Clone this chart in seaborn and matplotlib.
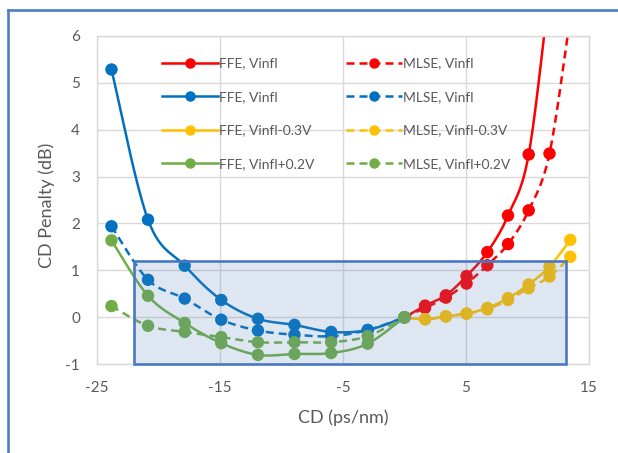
import numpy as np
import pandas as pd
import matplotlib
matplotlib.use("Agg")
import matplotlib.pyplot as plt
from matplotlib.lines import Line2D
from matplotlib.patches import Rectangle
import seaborn as sns

# ---------------- data ----------------
cd_neg = [-23.8, -20.83, -17.85, -14.88, -11.9, -8.93, -5.95, -2.98, 0.0]
cd_pos = [0.0, 1.68, 3.37, 5.05, 6.74, 8.42, 10.1, 11.79, 13.48]

ffe_red = [0.0, 0.25, 0.47, 0.88, 1.39, 2.17, 3.47, 7.0]
mlse_red = [0.0, 0.20, 0.42, 0.72, 1.11, 1.56, 2.28, 3.49, 6.4]
ffe_blue = [5.28, 2.08, 1.10, 0.37, -0.03, -0.16, -0.31, -0.27, 0.0]
mlse_blue = [1.94, 0.80, 0.40, -0.05, -0.28, -0.37, -0.40, -0.27, 0.0]
ffe_yellow = [0.0, -0.04, 0.02, 0.08, 0.20, 0.41, 0.70, 1.08, 1.65]
mlse_yellow = [0.0, -0.04, 0.02, 0.08, 0.17, 0.37, 0.62, 0.87, 1.29]
ffe_green = [1.64, 0.46, -0.12, -0.55, -0.80, -0.78, -0.76, -0.56, 0.0]
mlse_green = [0.24, -0.18, -0.31, -0.42, -0.53, -0.53, -0.53, -0.40, 0.0]

labels_ffe = ["FFE, Vinfl", "FFE, Vinfl", "FFE, Vinfl-0.3V", "FFE, Vinfl+0.2V"]
labels_mlse = ["MLSE, Vinfl", "MLSE, Vinfl", "MLSE, Vinfl-0.3V", "MLSE, Vinfl+0.2V"]
colors = ["#FF0000", "#0070C0", "#FFC000", "#70AD47"]

x_ticks = [-25, -15, -5, 5, 15]
y_ticks = [-1, 0, 1, 2, 3, 4, 5, 6]
box_x = [-21.93, 13.1]
box_y = [-1.0, 1.19]

# ---------------- helpers ----------------
def smooth(x, y, n=24):
    pts = np.column_stack([x, y]).astype(float)
    xs, ys = [], []
    m = len(pts)
    for i in range(m - 1):
        p0 = pts[i - 1] if i > 0 else pts[i]
        p1 = pts[i]
        p2 = pts[i + 1]
        p3 = pts[i + 2] if i + 2 < m else pts[i + 1]
        c1 = p1 + (p2 - p0) / 6.0
        c2 = p2 - (p3 - p1) / 6.0
        t = np.linspace(0, 1, n, endpoint=(i == m - 2))[:, None]
        b = ((1 - t) ** 3) * p1 + 3 * ((1 - t) ** 2) * t * c1 + 3 * (1 - t) * t ** 2 * c2 + t ** 3 * p2
        xs.append(b[:, 0]); ys.append(b[:, 1])
    return np.concatenate(xs), np.concatenate(ys)

plt.rcParams['font.family'] = ['Lato', 'DejaVu Sans']
plt.rcParams['axes.unicode_minus'] = False
text_col = "#595959"

fig = plt.figure(figsize=(6.18, 4.53), dpi=100)
ax = fig.add_axes([96.7 / 618, 1 - 364.3 / 453, 492.3 / 618, 328.6 / 453])

series = [
    (cd_pos[:len(ffe_red)], ffe_red, colors[0], "-"),
    (cd_pos[:len(mlse_red)], mlse_red, colors[0], "--"),
    (cd_neg, ffe_blue, colors[1], "-"),
    (cd_neg, mlse_blue, colors[1], "--"),
    (cd_pos, ffe_yellow, colors[2], "-"),
    (cd_pos, mlse_yellow, colors[2], "--"),
    (cd_neg, ffe_green, colors[3], "-"),
    (cd_neg, mlse_green, colors[3], "--"),
]

lw = 1.8
dash = (3.2, 2.0)
for xv, yv, c, ls in series:
    sx, sy = smooth(xv, yv)
    df = pd.DataFrame({"x": sx, "y": sy})
    sns.lineplot(data=df, x="x", y="y", ax=ax, color=c, lw=lw, sort=False,
                 estimator=None, legend=False, zorder=2)
    if ls == "--":
        ax.lines[-1].set_dashes(dash)
    dfm = pd.DataFrame({"x": xv, "y": yv})
    sns.scatterplot(data=dfm, x="x", y="y", ax=ax, color=c, s=80, edgecolor="none",
                    legend=False, zorder=2.5)

rect = Rectangle((box_x[0], box_y[0]), box_x[1] - box_x[0], box_y[1] - box_y[0],
                 facecolor="#5A87B9", alpha=0.2, edgecolor="none", zorder=3)
ax.add_patch(rect)
rect2 = Rectangle((box_x[0], box_y[0]), box_x[1] - box_x[0], box_y[1] - box_y[0],
                  facecolor="none", edgecolor="#4A78C2", lw=1.9, zorder=3.1, clip_on=False)
ax.add_patch(rect2)

ax.set_xlim(-25, 15)
ax.set_ylim(-1, 6)
ax.set_xticks(x_ticks)
ax.set_yticks(y_ticks)
ax.grid(True, color="#D9D9D9", lw=1.0, zorder=0)
ax.set_axisbelow(True)
for s in ax.spines.values():
    s.set_color("#D9D9D9")
    s.set_linewidth(1.0)
ax.tick_params(length=0, labelsize=11, labelcolor=text_col)
ax.tick_params(axis="y", pad=12)
ax.tick_params(axis="x", pad=12)

ax.set_xlabel("CD (ps/nm)", fontsize=13, color=text_col)
ax.set_ylabel("CD Penalty (dB)", fontsize=13, color=text_col)
ax.xaxis.label.set_va("center")
ax.yaxis.label.set_va("center")
ax.xaxis.set_label_coords(0.50, -0.163)
ax.yaxis.set_label_coords(-0.101, 0.485)

# legend
handles, labels = [], []
for lab, c in zip(labels_ffe, colors):
    handles.append(Line2D([], [], color=c, lw=lw, marker="o", markersize=6.5))
    labels.append(lab)
for lab, c in zip(labels_mlse, colors):
    h = Line2D([], [], color=c, lw=lw, marker="o", markersize=6.5, ls="--")
    h.set_dashes(dash)
    handles.append(h)
    labels.append(lab)
leg = ax.legend(handles, labels, ncol=2, loc="upper left",
                bbox_to_anchor=((162 - 96.7) / 492.3, (364.3 - 57.5) / 328.6),
                frameon=False, fontsize=10, handlelength=4.0, handletextpad=0.1,
                columnspacing=2.3, labelspacing=1.55, borderpad=0, borderaxespad=0)
for t in leg.get_texts():
    t.set_color(text_col)

# figure frame (left & top visible)
fc = "#4A7EC0"
fig.add_artist(Line2D([8 / 618, 8 / 618], [0, 1 - 9.5 / 453], color=fc, lw=1.9,
                     transform=fig.transFigure))
fig.add_artist(Line2D([8 / 618, 1], [1 - 9.5 / 453, 1 - 9.5 / 453], color=fc, lw=1.9,
                     transform=fig.transFigure))

fig.savefig("out.png", dpi=100)
